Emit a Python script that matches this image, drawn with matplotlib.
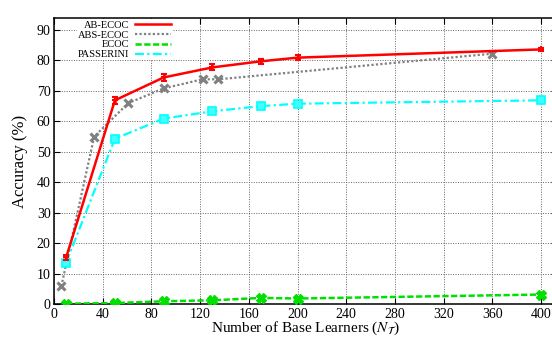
import matplotlib
matplotlib.use("Agg")
import matplotlib.pyplot as plt
from matplotlib.lines import Line2D

plt.rcParams['font.family'] = ['Liberation Serif', 'DejaVu Serif']
plt.rcParams['mathtext.fontset'] = 'stix'

# AB-ECOC (with error bars)
ab_x = [10, 50, 90, 130, 170, 200, 400]
ab_y = [15.4, 66.9, 74.4, 77.7, 79.7, 80.9, 83.6]
ab_err = [0.8, 1.1, 1.0, 1.0, 0.9, 0.9, 0.5]

# ABS-ECOC
abs_x = [6, 33, 61, 90, 122, 135, 360]
abs_y = [5.9, 55.0, 66.0, 70.8, 73.8, 73.8, 82.2]

# ECOC
ecoc_x = [10, 50, 90, 130, 170, 200, 400]
ecoc_y = [0.2, 0.4, 1.0, 1.3, 2.1, 1.9, 3.2]

# PASSERINI
pas_x = [10, 50, 90, 130, 170, 200, 400]
pas_y = [13.7, 54.3, 60.9, 63.3, 65.0, 65.8, 66.9]

labels = ['AB-ECOC', 'ABS-ECOC', 'ECOC', 'PASSERINI']
colors = ['#ff0000', '#808080', '#00e000', '#00ffff']

fig = plt.figure(figsize=(5.52, 3.38), dpi=100)
ax = fig.add_axes([54 / 552, 1 - 304.3 / 338, (557 - 54) / 552, (304.3 - 17.7) / 338])

ax.plot(abs_x, abs_y, color=colors[1], lw=1.6, ls=(0, (1, 1)), zorder=3)
ax.plot(abs_x, abs_y, ls='none', marker='x', ms=6, mew=2.2, color=colors[1], zorder=4)

ax.plot(pas_x, pas_y, color=colors[3], lw=1.6, ls=(0, (4, 1.5, 1, 1.5)), zorder=3)
ax.plot(pas_x, pas_y, ls='none', marker='s', ms=6, mfc='#40ffff', mec=colors[3], mew=1.2, zorder=4)

ax.plot(ecoc_x, ecoc_y, color=colors[2], lw=1.8, ls=(0, (2.5, 1)), zorder=3)
ax.plot(ecoc_x, ecoc_y, ls='none', marker='X', ms=7, color=colors[2], zorder=4)

ax.errorbar(ab_x, ab_y, yerr=ab_err, color=colors[0], lw=1.8, elinewidth=1.8,
            capsize=2.5, capthick=1.5, marker='+', ms=5, mew=1.5, zorder=5)

ax.set_xlim(0, 413)
ax.set_ylim(0, 94)
ax.set_xticks(range(0, 401, 40))
ax.set_yticks(range(0, 91, 10))
ax.grid(True, color='#666666', ls=(0, (1, 1.5)), lw=0.7)
ax.tick_params(direction='in', length=4, top=True, right=True, labelsize=10, pad=2.5)
for s in ax.spines.values():
    s.set_linewidth(1.1)

ax.set_xlabel(r'Number of Base Learners ($N_\mathcal{T}$)', fontsize=11, labelpad=-1)
ax.set_ylabel('Accuracy (%)', fontsize=12, labelpad=6)

handles = [
    Line2D([], [], color=colors[0], lw=1.8),
    Line2D([], [], color=colors[1], lw=1.6, ls=(0, (1, 1))),
    Line2D([], [], color=colors[2], lw=1.8, ls=(0, (2.5, 1))),
    Line2D([], [], color=colors[3], lw=1.6, ls=(0, (4, 1.5, 1, 1.5))),
]
leg = ax.legend(handles, labels, loc='upper left', markerfirst=False, fontsize=7.5,
                frameon=True, fancybox=False, edgecolor='none', framealpha=1,
                handlelength=3.4, labelspacing=0.05, borderpad=0.1,
                handletextpad=0.6, bbox_to_anchor=(0.035, 1.012))
for t in leg.get_texts():
    t.set_ha('right')
leg._legend_box.align = 'right'

fig.savefig('out.png', dpi=100)
